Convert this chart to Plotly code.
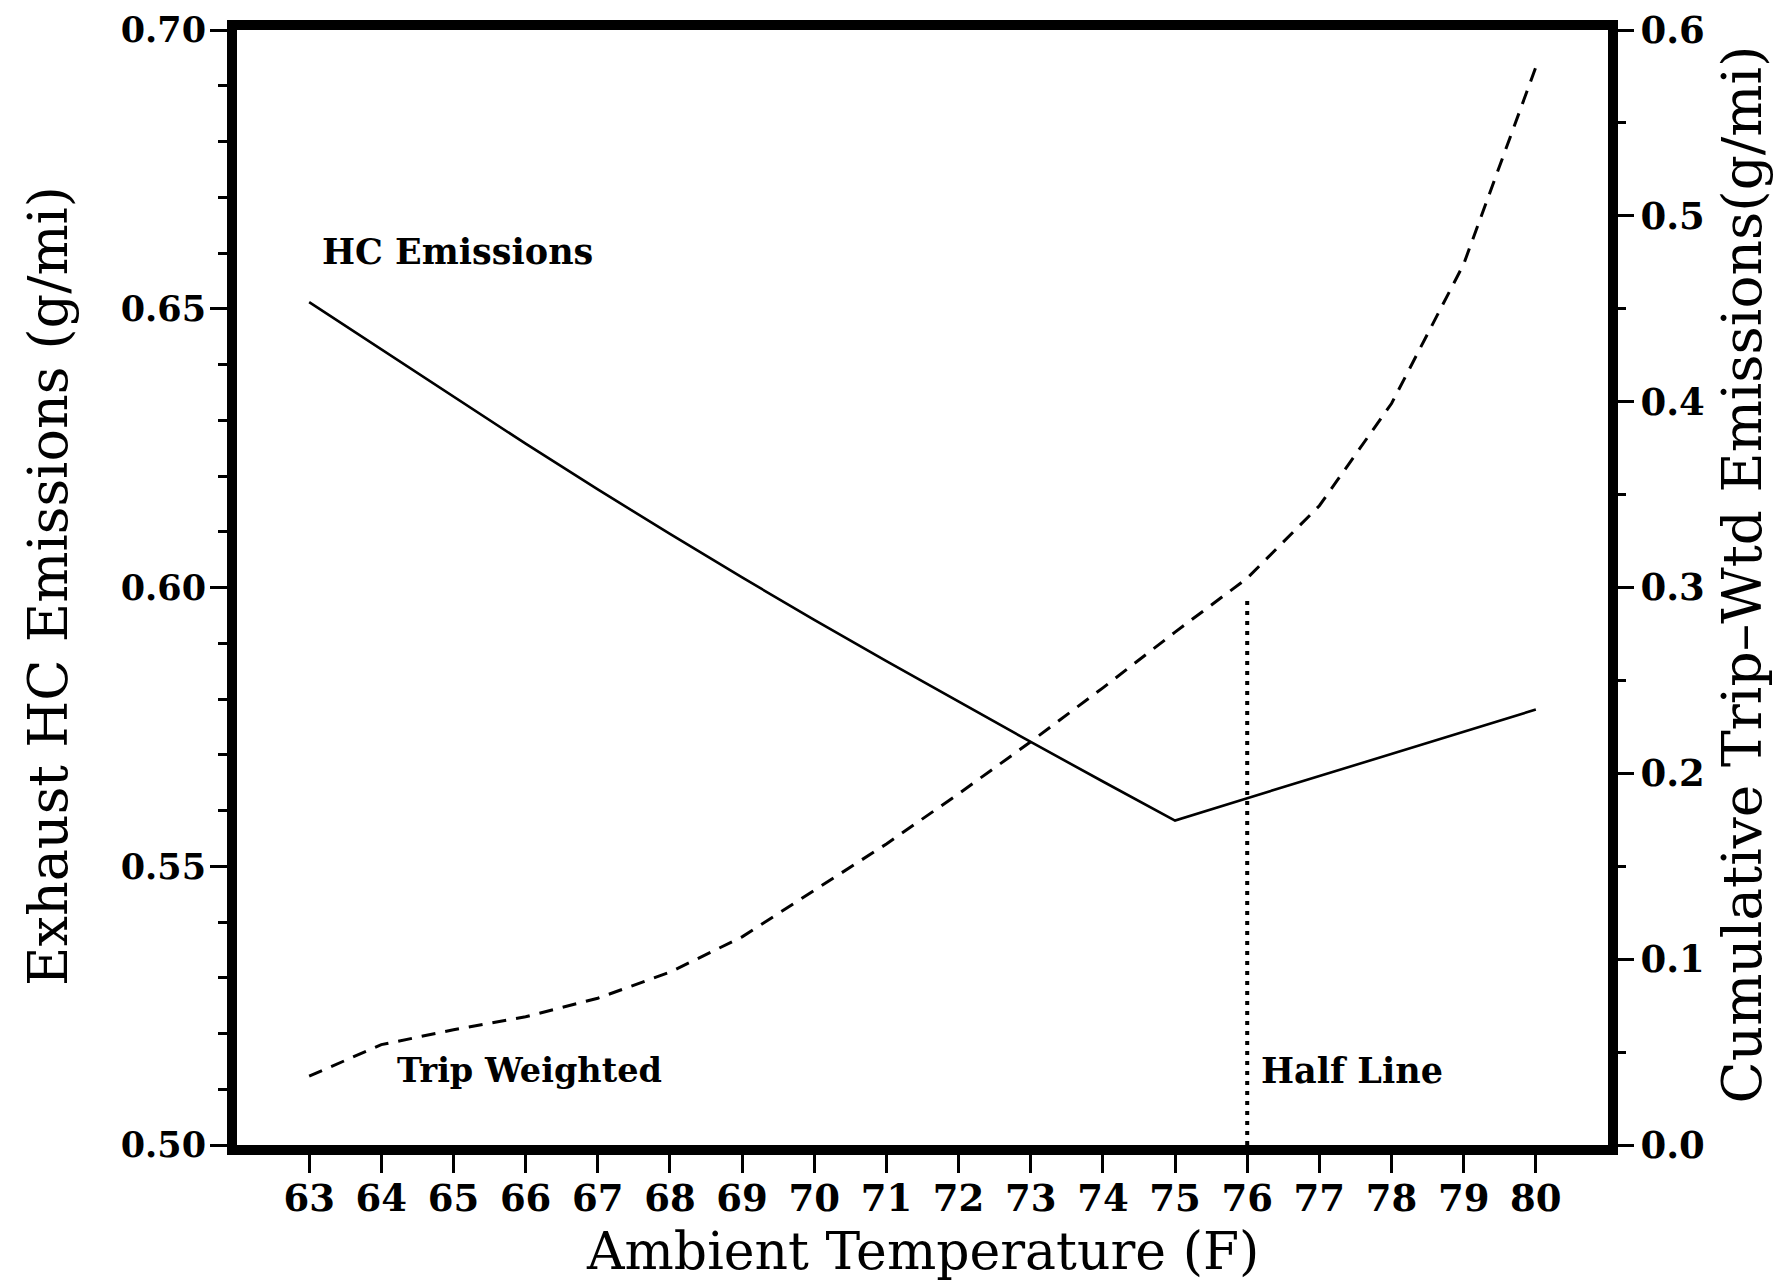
import plotly.graph_objects as go

# ---- data ----
temps = [63, 64, 65, 66, 67, 68, 69, 70, 71, 72, 73, 74, 75, 76, 77, 78, 79, 80]
hc_emissions = [0.6512, 0.6427, 0.6342, 0.6258, 0.6176, 0.6096, 0.6018, 0.5942, 0.5868,
                0.5795, 0.5723, 0.5652, 0.5582, 0.5622, 0.5662, 0.5702, 0.5742, 0.5781]
cum_trip_wtd = [0.037, 0.054, 0.062, 0.069, 0.079, 0.093, 0.112, 0.137, 0.162,
                0.189, 0.217, 0.246, 0.276, 0.305, 0.344, 0.399, 0.474, 0.580]
half_line_x = [76, 76]
half_line_y = [0.0, 0.295]
x_ticks = list(range(63, 81))
y_left_ticks = [0.50, 0.55, 0.60, 0.65, 0.70]
y_right_ticks = [0.0, 0.1, 0.2, 0.3, 0.4, 0.5, 0.6]

SERIF = "DejaVu Serif"

fig = go.Figure()
fig.add_trace(go.Scatter(x=temps, y=hc_emissions, mode="lines",
                         line=dict(color="black", width=2.6), yaxis="y", showlegend=False))
fig.add_trace(go.Scatter(x=temps, y=cum_trip_wtd, mode="lines",
                         line=dict(color="black", width=3, dash="14px,10px"), yaxis="y2", showlegend=False))
fig.add_trace(go.Scatter(x=half_line_x, y=half_line_y, mode="lines",
                         line=dict(color="black", width=4, dash="4px,6px"), yaxis="y2", showlegend=False))

fig.update_layout(
    template="none",
    width=1782, height=1282,
    margin=dict(l=237, r=174, t=30, b=137, autoexpand=False),
    paper_bgcolor="white", plot_bgcolor="white",
    xaxis=dict(range=[62, 81], tickvals=x_ticks, ticks="outside", ticklen=18, tickwidth=3,
               tickcolor="black", showline=True, linewidth=10, linecolor="black", mirror=True,
               showgrid=False, zeroline=False, automargin=False, ticklabelstandoff=-6,
               tickfont=dict(family=SERIF, size=37, color="black", weight="bold")),
    yaxis=dict(range=[0.5, 0.7], tickvals=y_left_ticks, tickformat=".2f", ticks="outside",
               ticklen=17, tickwidth=3, tickcolor="black", showline=True, linewidth=10,
               linecolor="black", showgrid=False, zeroline=False, automargin=False,
               ticklabelstandoff=-3,
               tickfont=dict(family=SERIF, size=35, color="black", weight="bold"),
               minor=dict(dtick=0.01, ticks="outside", ticklen=9, tickwidth=3, tickcolor="black",
                          showgrid=False)),
    yaxis2=dict(range=[0, 0.6], tickvals=y_right_ticks, tickformat=".1f", ticks="outside",
                ticklen=16, tickwidth=3, tickcolor="black", showline=True, linewidth=10,
                linecolor="black", showgrid=False, zeroline=False, overlaying="y", side="right",
                automargin=False, ticklabelstandoff=-1,
                tickfont=dict(family=SERIF, size=37, color="black", weight="bold"),
                minor=dict(dtick=0.05, ticks="outside", ticklen=8, tickwidth=3, tickcolor="black",
                           showgrid=False)),
)

fig.add_annotation(x=63.15, y=0.6602, xref="x", yref="y", text="HC Emissions",
                   showarrow=False, xanchor="left", yanchor="middle",
                   font=dict(family=SERIF, size=35, color="black", weight="bold"))
fig.add_annotation(x=64.19, y=0.5134, xref="x", yref="y", text="Trip Weighted",
                   showarrow=False, xanchor="left", yanchor="middle",
                   font=dict(family=SERIF, size=33.5, color="black", weight="bold"))
fig.add_annotation(x=76.16, y=0.5134, xref="x", yref="y", text="Half Line",
                   showarrow=False, xanchor="left", yanchor="middle",
                   font=dict(family=SERIF, size=35, color="black", weight="bold"))

fig.add_annotation(x=-0.1375, y=0.5018, xref="paper", yref="paper",
                   text="Exhaust HC Emissions (g/mi)", textangle=-90, showarrow=False,
                   xanchor="center", yanchor="middle", font=dict(family=SERIF, size=54, color="black"))
fig.add_annotation(x=1.0976, y=0.5116, xref="paper", yref="paper",
                   text="Cumulative Trip\u2013Wtd Emissions(g/mi)", textangle=-90, showarrow=False,
                   xanchor="center", yanchor="middle", font=dict(family=SERIF, size=55, color="black"))
fig.add_annotation(x=0.5, y=-0.0955, xref="paper", yref="paper",
                   text="Ambient Temperature (F)", showarrow=False,
                   xanchor="center", yanchor="middle", font=dict(family=SERIF, size=52, color="black"))

fig.write_html("out.html")
